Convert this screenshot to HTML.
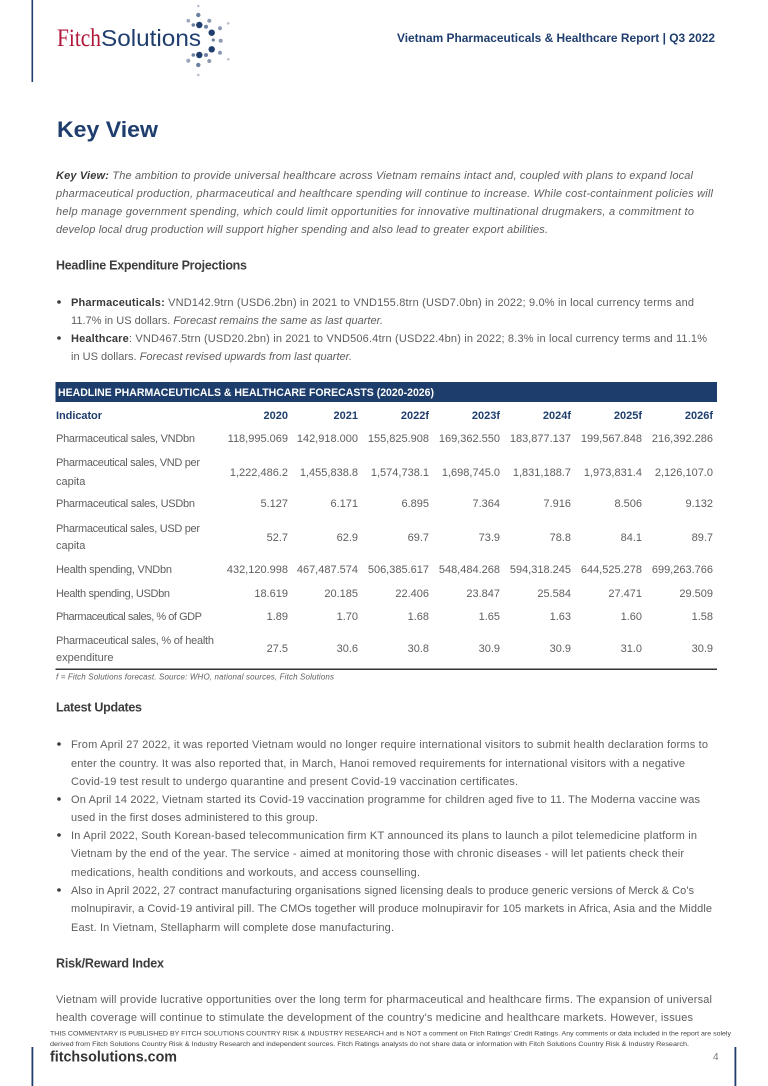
<!DOCTYPE html>
<html><head><meta charset="utf-8"><style>
html,body{margin:0;padding:0;background:#fff;}
svg{display:block;}
text{font-family:"Liberation Sans",sans-serif;}
.b{font-size:11px;fill:#5e5e5e;}
.h{font-size:12.5px;font-weight:bold;fill:#3d3d3d;}
.t{font-size:11px;fill:#5e5e5e;}
.v{font-size:11px;fill:#5e5e5e;text-anchor:end;}
.yr{font-size:11px;font-weight:bold;fill:#1f3e6e;text-anchor:end;}
.bd{font-weight:bold;fill:#3a3a3a;}
</style></head><body>
<svg width="768" height="1086" viewBox="0 0 768 1086" xmlns="http://www.w3.org/2000/svg">
<rect width="768" height="1086" fill="#fff"/>
<!-- header bars -->
<rect x="31.5" y="0" width="1.6" height="82" fill="#1f3e6e"/>
<!-- logo -->
<text x="57" y="46" font-family="Liberation Serif,serif" font-size="25" fill="#b0163a" textLength="44" lengthAdjust="spacingAndGlyphs" style="font-family:'Liberation Serif',serif">Fitch</text>
<text x="101" y="46" font-size="23" fill="#1f3e6e" textLength="100" lengthAdjust="spacingAndGlyphs">Solutions</text>
<g>
<circle cx="198.3" cy="6" r="1.3" fill="#b9c0cc"/>
<circle cx="198.3" cy="15" r="2.2" fill="#6d80a2"/>
<circle cx="188.3" cy="20.7" r="1.8" fill="#9aa6bb"/>
<circle cx="209.3" cy="20.7" r="2" fill="#8c99b2"/>
<circle cx="228.3" cy="23.3" r="1.3" fill="#b9c0cc"/>
<circle cx="193.3" cy="25" r="1.8" fill="#6d80a2"/>
<circle cx="199.3" cy="25" r="3.2" fill="#1f3e6e"/>
<circle cx="206" cy="26.7" r="2" fill="#6d80a2"/>
<circle cx="211.7" cy="32.7" r="3.2" fill="#1f3e6e"/>
<circle cx="220" cy="28.3" r="2" fill="#8c99b2"/>
<circle cx="213.3" cy="40" r="1.6" fill="#6d80a2"/>
<circle cx="220.7" cy="40.7" r="2" fill="#8c99b2"/>
<circle cx="211.7" cy="49.3" r="3.2" fill="#1f3e6e"/>
<circle cx="220" cy="52.7" r="2" fill="#8c99b2"/>
<circle cx="206" cy="55" r="2" fill="#6d80a2"/>
<circle cx="199.3" cy="55" r="3.2" fill="#1f3e6e"/>
<circle cx="193.3" cy="55" r="1.8" fill="#6d80a2"/>
<circle cx="188.3" cy="60.7" r="2" fill="#9aa6bb"/>
<circle cx="209.3" cy="61" r="2" fill="#8c99b2"/>
<circle cx="228.3" cy="59.3" r="1.3" fill="#b9c0cc"/>
<circle cx="198.3" cy="65" r="2.2" fill="#6d80a2"/>
<circle cx="198.3" cy="75" r="1.3" fill="#b9c0cc"/>
</g>
<text x="397" y="42" font-size="12" font-weight="bold" fill="#1f3e6e" textLength="318" lengthAdjust="spacingAndGlyphs">Vietnam Pharmaceuticals &amp; Healthcare Report | Q3 2022</text>

<!-- title -->
<text x="57" y="137" font-size="22" font-weight="bold" fill="#1f3e6e" textLength="101" lengthAdjust="spacingAndGlyphs">Key View</text>

<!-- key view paragraph -->
<g class="b" font-style="italic">
<text x="56" y="179" textLength="637"><tspan class="bd">Key View:</tspan> The ambition to provide universal healthcare across Vietnam remains intact and, coupled with plans to expand local</text>
<text x="56" y="197" textLength="657">pharmaceutical production, pharmaceutical and healthcare spending will continue to increase. While cost-containment policies will</text>
<text x="56" y="215" textLength="638">help manage government spending, which could limit opportunities for innovative multinational drugmakers, a commitment to</text>
<text x="56" y="233" textLength="492">develop local drug production will support higher spending and also lead to greater export abilities.</text>
</g>

<text class="h" x="56" y="269.5" textLength="191">Headline Expenditure Projections</text>

<circle cx="59" cy="302" r="1.8" fill="#3a3a3a"/>
<circle cx="59" cy="338" r="1.8" fill="#3a3a3a"/>
<g class="b">
<text x="71" y="306" textLength="623"><tspan class="bd">Pharmaceuticals:</tspan> VND142.9trn (USD6.2bn) in 2021 to VND155.8trn (USD7.0bn) in 2022; 9.0% in local currency terms and</text>
<text x="71" y="324" textLength="312">11.7% in US dollars. <tspan font-style="italic">Forecast remains the same as last quarter.</tspan></text>
<text x="71" y="342" textLength="636"><tspan class="bd">Healthcare</tspan>: VND467.5trn (USD20.2bn) in 2021 to VND506.4trn (USD22.4bn) in 2022; 8.3% in local currency terms and 11.1%</text>
<text x="71" y="360" textLength="281">in US dollars. <tspan font-style="italic">Forecast revised upwards from last quarter.</tspan></text>
</g>

<!-- table -->
<rect x="55.5" y="382" width="661.5" height="20" fill="#1d3e6c"/>
<text x="58" y="396" font-size="11" font-weight="bold" fill="#fff" textLength="376" lengthAdjust="spacingAndGlyphs">HEADLINE PHARMACEUTICALS &amp; HEALTHCARE FORECASTS (2020-2026)</text>
<text x="56" y="419" font-size="11" font-weight="bold" fill="#1f3e6e" textLength="46">Indicator</text>
<text class="yr" x="288" y="419">2020</text>
<text class="yr" x="358" y="419">2021</text>
<text class="yr" x="429" y="419">2022f</text>
<text class="yr" x="500" y="419">2023f</text>
<text class="yr" x="571" y="419">2024f</text>
<text class="yr" x="642" y="419">2025f</text>
<text class="yr" x="713" y="419">2026f</text>

<text class="t" x="56" y="442" textLength="139">Pharmaceutical sales, VNDbn</text>
<text class="v" x="288" y="442">118,995.069</text><text class="v" x="358" y="442">142,918.000</text><text class="v" x="429" y="442">155,825.908</text><text class="v" x="500" y="442">169,362.550</text><text class="v" x="571" y="442">183,877.137</text><text class="v" x="642" y="442">199,567.848</text><text class="v" x="713" y="442">216,392.286</text>

<text class="t" x="56" y="466" textLength="144">Pharmaceutical sales, VND per</text>
<text class="t" x="56" y="485">capita</text>
<text class="v" x="288" y="476">1,222,486.2</text><text class="v" x="358" y="476">1,455,838.8</text><text class="v" x="429" y="476">1,574,738.1</text><text class="v" x="500" y="476">1,698,745.0</text><text class="v" x="571" y="476">1,831,188.7</text><text class="v" x="642" y="476">1,973,831.4</text><text class="v" x="713" y="476">2,126,107.0</text>

<text class="t" x="56" y="507" textLength="139">Pharmaceutical sales, USDbn</text>
<text class="v" x="288" y="507">5.127</text><text class="v" x="358" y="507">6.171</text><text class="v" x="429" y="507">6.895</text><text class="v" x="500" y="507">7.364</text><text class="v" x="571" y="507">7.916</text><text class="v" x="642" y="507">8.506</text><text class="v" x="713" y="507">9.132</text>

<text class="t" x="56" y="532" textLength="144">Pharmaceutical sales, USD per</text>
<text class="t" x="56" y="549">capita</text>
<text class="v" x="288" y="541">52.7</text><text class="v" x="358" y="541">62.9</text><text class="v" x="429" y="541">69.7</text><text class="v" x="500" y="541">73.9</text><text class="v" x="571" y="541">78.8</text><text class="v" x="642" y="541">84.1</text><text class="v" x="713" y="541">89.7</text>

<text class="t" x="56" y="573" textLength="116">Health spending, VNDbn</text>
<text class="v" x="288" y="573">432,120.998</text><text class="v" x="358" y="573">467,487.574</text><text class="v" x="429" y="573">506,385.617</text><text class="v" x="500" y="573">548,484.268</text><text class="v" x="571" y="573">594,318.245</text><text class="v" x="642" y="573">644,525.278</text><text class="v" x="713" y="573">699,263.766</text>

<text class="t" x="56" y="597" textLength="114">Health spending, USDbn</text>
<text class="v" x="288" y="597">18.619</text><text class="v" x="358" y="597">20.185</text><text class="v" x="429" y="597">22.406</text><text class="v" x="500" y="597">23.847</text><text class="v" x="571" y="597">25.584</text><text class="v" x="642" y="597">27.471</text><text class="v" x="713" y="597">29.509</text>

<text class="t" x="56" y="620" textLength="146">Pharmaceutical sales, % of GDP</text>
<text class="v" x="288" y="620">1.89</text><text class="v" x="358" y="620">1.70</text><text class="v" x="429" y="620">1.68</text><text class="v" x="500" y="620">1.65</text><text class="v" x="571" y="620">1.63</text><text class="v" x="642" y="620">1.60</text><text class="v" x="713" y="620">1.58</text>

<text class="t" x="56" y="644" textLength="158">Pharmaceutical sales, % of health</text>
<text class="t" x="56" y="661">expenditure</text>
<text class="v" x="288" y="652">27.5</text><text class="v" x="358" y="652">30.6</text><text class="v" x="429" y="652">30.8</text><text class="v" x="500" y="652">30.9</text><text class="v" x="571" y="652">30.9</text><text class="v" x="642" y="652">31.0</text><text class="v" x="713" y="652">30.9</text>

<rect x="55.5" y="668.5" width="661.5" height="1.5" fill="#333"/>
<text x="56" y="679.5" font-size="8" font-style="italic" fill="#5e5e5e" textLength="278">f = Fitch Solutions forecast. Source: WHO, national sources, Fitch Solutions</text>

<text class="h" x="56" y="711.5" textLength="86">Latest Updates</text>

<circle cx="59" cy="744" r="1.8" fill="#3a3a3a"/>
<circle cx="59" cy="799" r="1.8" fill="#3a3a3a"/>
<circle cx="59" cy="835" r="1.8" fill="#3a3a3a"/>
<circle cx="59" cy="890" r="1.8" fill="#3a3a3a"/>
<g class="b">
<text x="71" y="748" textLength="637">From April 27 2022, it was reported Vietnam would no longer require international visitors to submit health declaration forms to</text>
<text x="71" y="767" textLength="614">enter the country. It was also reported that, in March, Hanoi removed requirements for international visitors with a negative</text>
<text x="71" y="785" textLength="447">Covid-19 test result to undergo quarantine and present Covid-19 vaccination certificates.</text>
<text x="71" y="803" textLength="629">On April 14 2022, Vietnam started its Covid-19 vaccination programme for children aged five to 11. The Moderna vaccine was</text>
<text x="71" y="821" textLength="247">used in the first doses administered to this group.</text>
<text x="71" y="839" textLength="626">In April 2022, South Korean-based telecommunication firm KT announced its plans to launch a pilot telemedicine platform in</text>
<text x="71" y="857" textLength="613">Vietnam by the end of the year. The service - aimed at monitoring those with chronic diseases - will let patients check their</text>
<text x="71" y="876" textLength="349">medications, health conditions and workouts, and access counselling.</text>
<text x="71" y="894" textLength="623">Also in April 2022, 27 contract manufacturing organisations signed licensing deals to produce generic versions of Merck &amp; Co's</text>
<text x="71" y="912" textLength="641">molnupiravir, a Covid-19 antiviral pill. The CMOs together will produce molnupiravir for 105 markets in Africa, Asia and the Middle</text>
<text x="71" y="931" textLength="323">East. In Vietnam, Stellapharm will complete dose manufacturing.</text>
</g>

<text class="h" x="56" y="967.5" textLength="108">Risk/Reward Index</text>
<g class="b">
<text x="56" y="1003" textLength="656">Vietnam will provide lucrative opportunities over the long term for pharmaceutical and healthcare firms. The expansion of universal</text>
<text x="56" y="1021" textLength="637">health coverage will continue to stimulate the development of the country's medicine and healthcare markets. However, issues</text>
</g>

<!-- footer -->
<text x="50" y="1035.5" font-size="6.5" fill="#444" textLength="681" lengthAdjust="spacingAndGlyphs">THIS COMMENTARY IS PUBLISHED BY FITCH SOLUTIONS COUNTRY RISK &amp; INDUSTRY RESEARCH and is NOT a comment on Fitch Ratings' Credit Ratings. Any comments or data included in the report are solely</text>
<text x="50" y="1046" font-size="6.5" fill="#444" textLength="639" lengthAdjust="spacingAndGlyphs">derived from Fitch Solutions Country Risk &amp; Industry Research and independent sources. Fitch Ratings analysts do not share data or information with Fitch Solutions Country Risk &amp; Industry Research.</text>
<rect x="31.5" y="1047" width="1.8" height="39" fill="#1f3e6e"/>
<rect x="734.5" y="1047" width="1.8" height="39" fill="#1f3e6e"/>
<text x="50" y="1061.5" font-size="15" font-weight="bold" fill="#333" textLength="127" lengthAdjust="spacingAndGlyphs">fitchsolutions.com</text>
<text x="713" y="1060" font-size="10" fill="#777">4</text>
</svg>
</body></html>
